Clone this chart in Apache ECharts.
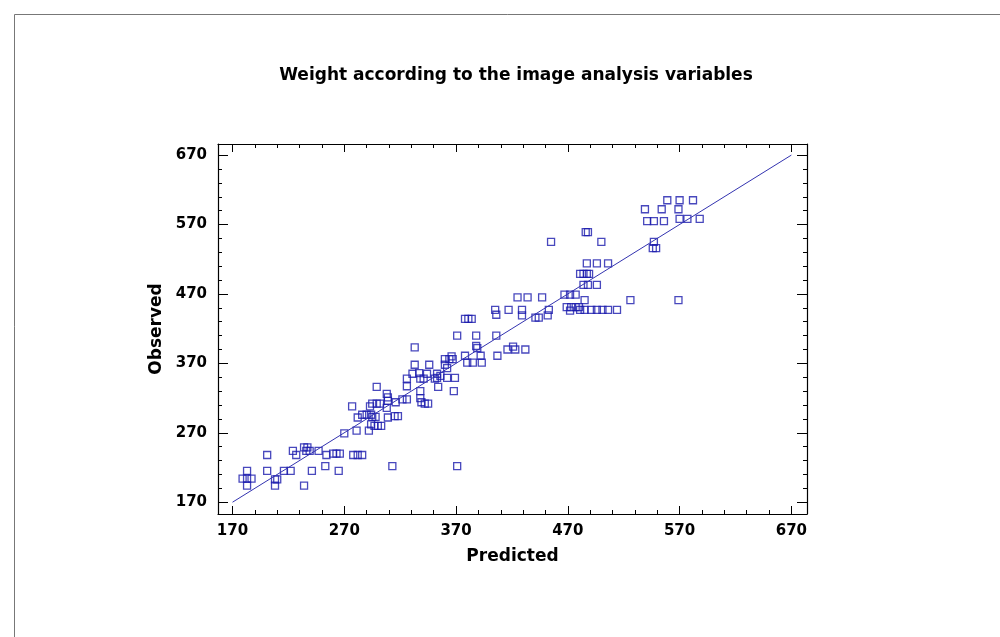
<!DOCTYPE html>
<html>
<head>
<meta charset="utf-8">
<script src="https://cdn.jsdelivr.net/npm/echarts@6/dist/echarts.min.js"></script>
<style>
  html, body { margin: 0; padding: 0; background: #fff; }
  #chart { width: 1000px; height: 637px; }
</style>
</head>
<body>
<div id="chart"></div>
<script>
const chartTitle = 'Weight according to the image analysis variables'
const xName = 'Predicted'
const yName = 'Observed'

const majorTicks = [170, 270, 370, 470, 570, 670]
const minorTicks = [170, 190, 210, 230, 250, 270, 290, 310, 330, 350, 370, 390, 410, 430, 450,
  470, 490, 510, 530, 550, 570, 590, 610, 630, 650, 670]

// predicted / observed pairs
const predicted = [
  179, 183, 187, 183, 183, 201, 201, 208, 210, 208, 216, 222, 224, 227, 234, 237, 236, 239, 234, 241,
  247, 253, 254, 260, 263, 266, 265, 270, 278, 282, 286, 277, 281, 292, 282, 286, 290, 294, 295, 298,
  294, 297, 300, 303, 309, 315, 318, 313, 371, 293, 295, 299, 302, 299, 308, 309, 309, 308, 316, 322,
  326, 326, 326, 331, 333, 333, 337, 338, 341, 344, 351, 353, 353, 356, 338, 354, 368, 362, 369, 338,
  339, 342, 345, 346, 360, 364, 367, 366, 362, 360, 378, 380, 385, 392, 393, 388, 389, 371, 388, 406,
  378, 381, 384, 407, 416, 421, 423, 432, 405, 406, 417, 429, 429, 441, 444, 453, 452, 425, 434, 447,
  455, 467, 472, 477, 469, 473, 477, 480, 472, 481, 485, 491, 496, 501, 506, 514, 485, 484, 488, 496,
  481, 484, 487, 489, 487, 496, 506, 486, 488, 500, 526, 569, 539, 554, 569, 541, 547, 556, 570, 577,
  588, 559, 570, 582, 547, 546, 549
]
const observed = [
  204, 204, 204, 215, 194, 238, 215, 203, 203, 194, 215, 215, 244, 238, 249, 249, 244, 244, 194, 215,
  244, 222, 238, 240, 240, 240, 215, 269, 238, 238, 238, 308, 273, 273, 292, 296, 296, 296, 293, 293,
  282, 280, 280, 280, 292, 294, 294, 222, 222, 308, 312, 312, 312, 336, 326, 321, 316, 306, 314, 318,
  318, 348, 337, 355, 393, 368, 356, 348, 348, 355, 348, 355, 349, 352, 330, 336, 330, 349, 349, 320,
  314, 312, 312, 368, 376, 376, 376, 380, 363, 368, 381, 371, 371, 381, 371, 395, 392, 410, 410, 410,
  434, 434, 434, 381, 390, 394, 390, 390, 447, 440, 447, 447, 439, 436, 436, 447, 439, 465, 465, 465,
  545, 469, 469, 469, 451, 451, 451, 451, 446, 447, 447, 447, 447, 447, 447, 447, 461, 483, 483, 483,
  499, 499, 499, 499, 514, 514, 514, 559, 559, 545, 461, 461, 592, 592, 592, 575, 575, 575, 578, 578,
  578, 605, 605, 605, 545, 536, 536
]

// fitted line end points
const lineX = [170, 670]
const lineY = [170, 670]

const blue = '#1a1aad'
const fontFamily = 'DejaVu Sans'

const points = predicted.map((p, i) => [p, observed[i]])
const linePoints = lineX.map((x, i) => [x, lineY[i]])

const xMin = 157, xMax = 684
const yMin = 153, yMax = 686

const tickAxis = (extra) => Object.assign({
  type: 'value',
  splitLine: { show: false },
  axisLine: { show: false },
  axisLabel: { show: false },
  axisTick: { show: true, inside: true, lineStyle: { color: '#000', width: 1 } }
}, extra)

const chart = echarts.init(document.getElementById('chart'))

chart.setOption({
  animation: false,
  backgroundColor: '#fff',
  title: {
    text: chartTitle,
    left: 511,
    textAlign: 'center',
    top: 62,
    textStyle: { fontFamily, fontSize: 17, fontWeight: 'bold', color: '#000' }
  },
  graphic: [{
    type: 'rect',
    shape: { x: 14.5, y: 14.5, width: 1000, height: 700 },
    style: { fill: 'none', stroke: '#777', lineWidth: 1 },
    silent: true
  }],
  grid: { left: 218, top: 144, width: 589, height: 370, containLabel: false },
  xAxis: [
    {
      type: 'value', position: 'bottom', min: xMin, max: xMax,
      splitLine: { show: false },
      axisLine: { show: true, onZero: false, lineStyle: { color: '#000', width: 1.2 } },
      axisTick: { show: true, inside: true, length: 8, customValues: majorTicks, lineStyle: { color: '#000' } },
      axisLabel: { customValues: majorTicks, margin: 10, fontFamily, fontSize: 15, fontWeight: 'bold', color: '#000' },
      name: xName, nameLocation: 'middle', nameGap: 34,
      nameTextStyle: { fontFamily, fontSize: 17, fontWeight: 'bold', color: '#000' }
    },
    tickAxis({ position: 'bottom', min: xMin, max: xMax,
      axisTick: { show: true, inside: true, length: 4, customValues: minorTicks, lineStyle: { color: '#000' } } }),
    tickAxis({ position: 'top', min: xMin, max: xMax,
      axisLine: { show: true, onZero: false, lineStyle: { color: '#000', width: 1.2 } },
      axisTick: { show: true, inside: true, length: 8, customValues: majorTicks, lineStyle: { color: '#000' } } }),
    tickAxis({ position: 'top', min: xMin, max: xMax,
      axisTick: { show: true, inside: true, length: 4, customValues: minorTicks, lineStyle: { color: '#000' } } })
  ],
  yAxis: [
    {
      type: 'value', position: 'left', min: yMin, max: yMax,
      splitLine: { show: false },
      axisLine: { show: true, onZero: false, lineStyle: { color: '#000', width: 1.2 } },
      axisTick: { show: true, inside: true, length: 10, customValues: majorTicks, lineStyle: { color: '#000' } },
      axisLabel: { customValues: majorTicks, margin: 11, fontFamily, fontSize: 15, fontWeight: 'bold', color: '#000' },
      name: yName, nameLocation: 'middle', nameGap: 49,
      nameTextStyle: { fontFamily, fontSize: 17, fontWeight: 'bold', color: '#000' }
    },
    tickAxis({ position: 'left', min: yMin, max: yMax,
      axisTick: { show: true, inside: true, length: 4, customValues: minorTicks, lineStyle: { color: '#000' } } }),
    tickAxis({ position: 'right', min: yMin, max: yMax,
      axisLine: { show: true, onZero: false, lineStyle: { color: '#000', width: 1.2 } },
      axisTick: { show: true, inside: true, length: 10, customValues: majorTicks, lineStyle: { color: '#000' } } }),
    tickAxis({ position: 'right', min: yMin, max: yMax,
      axisTick: { show: true, inside: true, length: 4, customValues: minorTicks, lineStyle: { color: '#000' } } })
  ],
  series: [
    {
      type: 'line',
      data: linePoints,
      xAxisIndex: 0, yAxisIndex: 0,
      symbol: 'none',
      lineStyle: { color: '#3333b0', width: 1 },
      silent: true
    },
    {
      type: 'scatter',
      data: points,
      xAxisIndex: 0, yAxisIndex: 0,
      symbol: 'rect',
      symbolSize: 7,
      itemStyle: { color: 'rgba(0,0,0,0)', borderColor: blue, borderWidth: 1.3 }
    }
  ]
})
</script>
</body>
</html>
